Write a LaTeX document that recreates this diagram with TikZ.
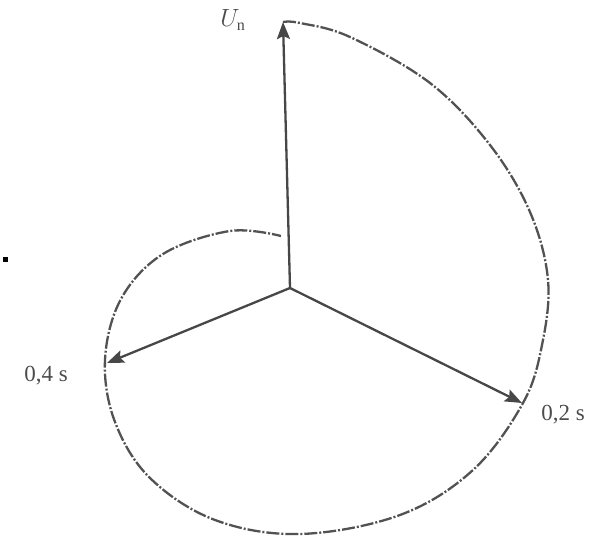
\documentclass[tikz,border=0pt]{standalone}
\usepackage{fontspec}
\setmainfont{Liberation Serif}
\usetikzlibrary{arrows.meta}
\definecolor{vecgray}{gray}{0.28}
\definecolor{tracegray}{gray}{0.32}
\definecolor{labelgray}{gray}{0.3}
\begin{document}
\begin{tikzpicture}[x=1pt,y=-1pt,
  vec/.style={draw=vecgray, line width=2.3pt, -{Stealth[length=17pt,width=13pt,inset=3pt]}},
  trace/.style={draw=tracegray, line width=2.3pt, dash pattern=on 13pt off 2pt on 2pt off 2pt},
  lbl/.style={font=\fontsize{23}{27}\selectfont, text=labelgray, inner sep=0pt}]
\useasboundingbox (0,0) rectangle (598,537);
\coordinate (O) at (290,288);
\coordinate (Un) at (283,22);
\coordinate (T02) at (522,403);
\coordinate (T04) at (107,363);
% trace of the voltage vector tip
\draw[trace] plot[smooth, tension=0.6] coordinates {
 (283,22) (300,23) (350,37) (430,83) (490,145) (530,212) (548,280)
 (542,345) (523,403) (473,470) (400,515) (300,534) (215,520) (150,478)
 (115,422) (105,360) (121,299) (163,254) (230,231) (281,236)};
% vectors
\draw[vec] (O) -- (Un);
\draw[vec] (O) -- (T02);
\draw[vec] (O) -- (T04);
% labels
\node[lbl] (lUn) at (233,20) {$U_{\mathrm{n}}$};
\node[lbl] (l04) at (46,376) {0,4 s};
\node[lbl] (l02) at (563,415) {0,2 s};
% small mark at left
\fill[black] (3,257) rectangle (8,262);
\end{tikzpicture}
\end{document}
